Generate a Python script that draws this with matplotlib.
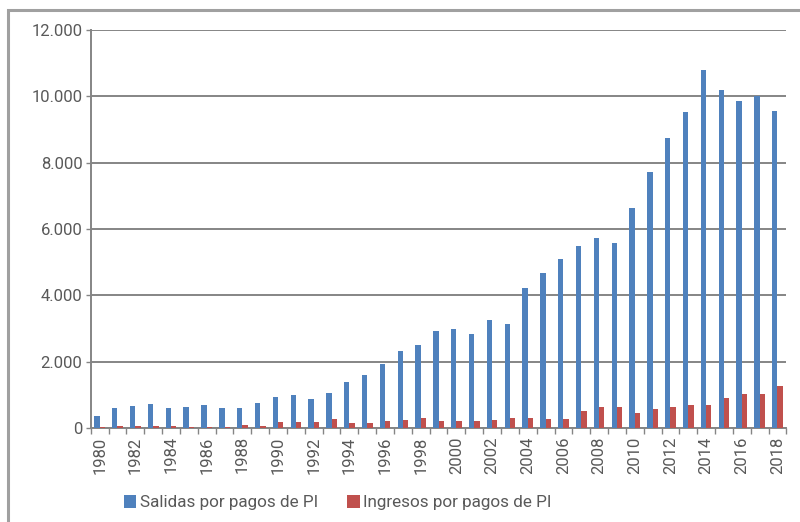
import matplotlib
matplotlib.use("Agg")
import matplotlib.pyplot as plt
from matplotlib.patches import Rectangle
from matplotlib.ticker import FuncFormatter, FixedLocator
import numpy as np

plt.rcParams['font.family'] = ['Roboto', 'DejaVu Sans']

years = list(range(1980, 2019))
salidas = [354, 590, 650, 710, 606, 648, 688, 606, 606, 748,
           921, 982, 879, 1042, 1390, 1590, 1918, 2312, 2494, 2939,
           2979, 2836, 3251, 3151, 4221, 4685, 5109, 5490, 5730, 5580,
           6637, 7725, 8752, 9537, 10806, 10193, 9860, 10021, 9568]
ingresos = [30, 60, 50, 50, 50, 40, 40, 40, 80, 60,
            180, 180, 180, 260, 150, 150, 220, 250, 312, 220,
            220, 220, 250, 312, 312, 280, 283, 504, 646, 646,
            453, 586, 646, 707, 707, 918, 1018, 1039, 1269]
series_names = ["Salidas por pagos de PI", "Ingresos por pagos de PI"]
yticks = [0, 2000, 4000, 6000, 8000, 10000, 12000]

blue = '#4F81BD'
red = '#C0504D'
txt = '#595959'
grid = '#858585'

fig = plt.figure(figsize=(8.0, 5.22), dpi=100)
ax = fig.add_axes([0.1134, 0.180, 0.8696, 0.7625])

x = np.arange(len(years))
w = 0.3
ax.bar(x - w / 2, salidas, width=w, color=blue, label=series_names[0], zorder=3)
ax.bar(x + w / 2, ingresos, width=w, color=red, label=series_names[1], zorder=3)

ax.set_xlim(-0.5, len(years) - 0.5)
ax.set_ylim(0, 12000)
ax.set_yticks(yticks)
ax.yaxis.set_major_formatter(FuncFormatter(lambda v, p: f"{int(v):,}".replace(",", ".")))
ax.yaxis.grid(True, color=grid, linewidth=1.4, zorder=0)
ax.set_axisbelow(True)

major = [i for i in range(len(years)) if i % 2 == 0]
ax.xaxis.set_major_locator(FixedLocator(major))
ax.set_xticklabels([str(years[i]) for i in major], rotation=90)
ax.xaxis.set_minor_locator(FixedLocator(np.arange(-0.5, len(years), 1.0)))
ax.tick_params(axis='x', which='major', length=0, pad=6, labelsize=12, labelcolor=txt)
ax.tick_params(axis='x', which='minor', length=4, color=grid, width=1)
ax.tick_params(axis='y', length=3.5, color=grid, width=1, labelsize=12, labelcolor=txt, pad=2.5)

for s in ['top', 'right']:
    ax.spines[s].set_visible(False)
for s in ['left', 'bottom']:
    ax.spines[s].set_color(grid)
    ax.spines[s].set_linewidth(1.4)

leg = fig.legend(loc='center', bbox_to_anchor=(0.422, 0.037), ncol=2, frameon=False,
                 fontsize=12.3, handlelength=0.75, handleheight=0.75, handletextpad=0.2,
                 columnspacing=1.7, labelcolor=txt)

fig.patches.append(Rectangle((8 / 800, -0.05), 1.0, (522 - 10) / 522 + 0.05,
                             transform=fig.transFigure, fill=False,
                             edgecolor='#a0a0a0', linewidth=2.2))

fig.savefig("out.png", dpi=100)
